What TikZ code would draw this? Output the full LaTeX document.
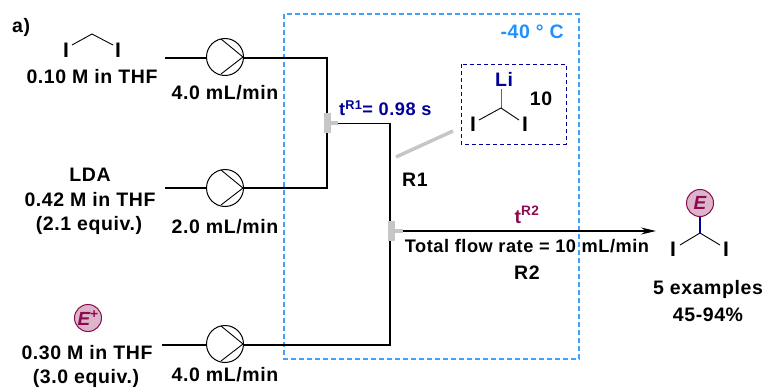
\documentclass[tikz,border=0pt]{standalone}
\usepackage{fontspec}
\setmainfont[LetterSpace=3]{Liberation Sans}
\usetikzlibrary{calc, positioning, arrows.meta}
\tikzset{
  label/.style={font=\fontsize{19.5}{21}\selectfont\bfseries, inner sep=0pt, align=center},
  smalllabel/.style={label, font=\fontsize{18.2}{20}\selectfont\bfseries},
  atomlabel/.style={label, font=\fontsize{21}{22}\selectfont\bfseries},
  pump/.style={circle, draw=black, line width=1pt, minimum size=37pt, inner sep=0pt},
  feed/.style={line width=2pt, black},
  bond/.style={line width=0.9pt, black},
  mixer/.style={fill=gray!45},
  badge/.style={circle, draw=markred, fill=markred!30, line width=1pt, minimum size=27pt, inner sep=0pt, text=markred, font=\fontsize{19}{20}\selectfont\bfseries\itshape}
}
\begin{document}
\begin{tikzpicture}[x=1pt,y=-1pt]
  \definecolor{coldblue}{RGB}{30,144,255}
  \definecolor{darkblue}{RGB}{0,0,153}
  \definecolor{markred}{RGB}{139,10,80}
  \path[use as bounding box] (0,0) rectangle (766,388);
  % cold zone
  \draw[coldblue!85, line width=1.4pt, dash pattern=on 5pt off 3pt] (284,14) rectangle (579,359);
  \node[label, text=coldblue, anchor=east] (temp) at (564,32) {-40 ° C};
  \node[label, anchor=west] (tag) at (12,27) {a)};
  % pumps
  \node[pump] (pumpA) at (225,57) {};
  \node[pump] (pumpB) at (225,188) {};
  \node[pump] (pumpC) at (225,344) {};
  \foreach \p in {pumpA,pumpB,pumpC} {
    \draw[bond] ($(\p)+(-4,-18)$) -- ($(\p)+(18,0)$) -- ($(\p)+(-4,17)$);
  }
  % tubing
  \coordinate (inA) at (165,58);
  \coordinate (inB) at (165,188);
  \coordinate (inC) at (162,345);
  \coordinate (joinA) at (327,58);
  \coordinate (joinB) at (327,188);
  \coordinate (teeA) at (338,123);
  \coordinate (bendA) at (391,123);
  \coordinate (bendC) at (390,345);
  \coordinate (teeB) at (403,231);
  \coordinate (outR) at (656,231);
  \draw[feed] (inA) -- (pumpA.west |- inA);
  \draw[feed, line join=miter] (pumpA.east |- inA) -- (joinA) -- (joinB) -- (pumpB.east |- joinB);
  \draw[feed] (inB) -- (pumpB.west |- inB);
  \draw[feed] (inC) -- (pumpC.west |- inC);
  \draw[feed] (pumpC.east |- inC) -- (bendC) -- (bendC |- bendA);
  \draw[line width=1pt] (teeA) -- (bendA);
  \draw[line width=1.5pt, -{Stealth[length=15pt,width=7pt]}] (teeB) -- (outR);
  % mixers
  \fill[mixer] (324,113) rectangle (331,133);
  \fill[mixer] (331,121) rectangle (338,125);
  \fill[mixer] (388,221) rectangle (395,241);
  \fill[mixer] (395,229) rectangle (403,233);
  \draw[gray!45, line width=3.5pt] (396,157) -- (453,131);
  % flow labels
  \node[label] (flowA) at (225,93) {4.0 mL/min};
  \node[label] (flowB) at (225,227) {2.0 mL/min};
  \node[label] (flowC) at (225,375) {4.0 mL/min};
  \node[label] (feedA) at (92,77) {0.10 M in THF};
  \node[label] (feedB) at (90,175) {LDA};
  \node[label] (feedBb) at (90,200) {0.42 M in THF};
  \node[label] (feedBc) at (89,225) {(2.1 equiv.)};
  \node[label] (feedC) at (87,353) {0.30 M in THF};
  \node[label] (feedCb) at (86,378) {(3.0 equiv.)};
  \node[smalllabel, text=darkblue, anchor=west] (timeA) at (339,108) {t\textsuperscript{R1}= 0.98 s};
  \node[label] (nameA) at (415,180) {R1};
  \node[label, text=markred] (timeB) at (527,215) {t\textsuperscript{R2}};
  \node[smalllabel] (rate) at (527,246) {Total flow rate = 10 mL/min};
  \node[label] (nameB) at (527,273) {R2};
  \node[label] (yieldA) at (708,289) {5 examples};
  \node[label] (yieldB) at (708,315) {45-94\%};
  % diiodomethane
  \node[atomlabel] (iA) at (66,50) {I};
  \node[atomlabel] (iB) at (118,50) {I};
  \coordinate (cA) at (92,34);
  \draw[bond] (iA) ++(6,-5) -- (cA) -- ($(iB)+(-5,-5)$);
  % lithiated species
  \draw[darkblue, line width=1pt, dash pattern=on 4pt off 3pt] (461,64) rectangle (566,144);
  \node[label, text=darkblue] (li) at (504,79) {Li};
  \node[atomlabel] (iC) at (473,124) {I};
  \node[atomlabel] (iD) at (525,124) {I};
  \node[label] (ten) at (541,99) {10};
  \coordinate (cB) at (501,108);
  \draw[line width=1pt, gray!80!black] (cB) -- (501,89);
  \draw[bond] (cB) -- ($(iC)+(6,-4)$);
  \draw[bond] (cB) -- ($(iD)+(-6,-4)$);
  % product
  \node[badge] (eProd) at (700,203) {E};
  \node[badge] (ePlus) at (88,318) {E\textsuperscript{+}};
  \node[atomlabel] (iE) at (673,249) {I};
  \node[atomlabel] (iF) at (726,249) {I};
  \coordinate (cC) at (700,233);
  \draw[darkblue, line width=2.5pt] (eProd) -- (cC);
  \draw[bond] (cC) -- ($(iE)+(7,-4)$);
  \draw[bond] (cC) -- ($(iF)+(-6,-4)$);
\end{tikzpicture}
\end{document}
